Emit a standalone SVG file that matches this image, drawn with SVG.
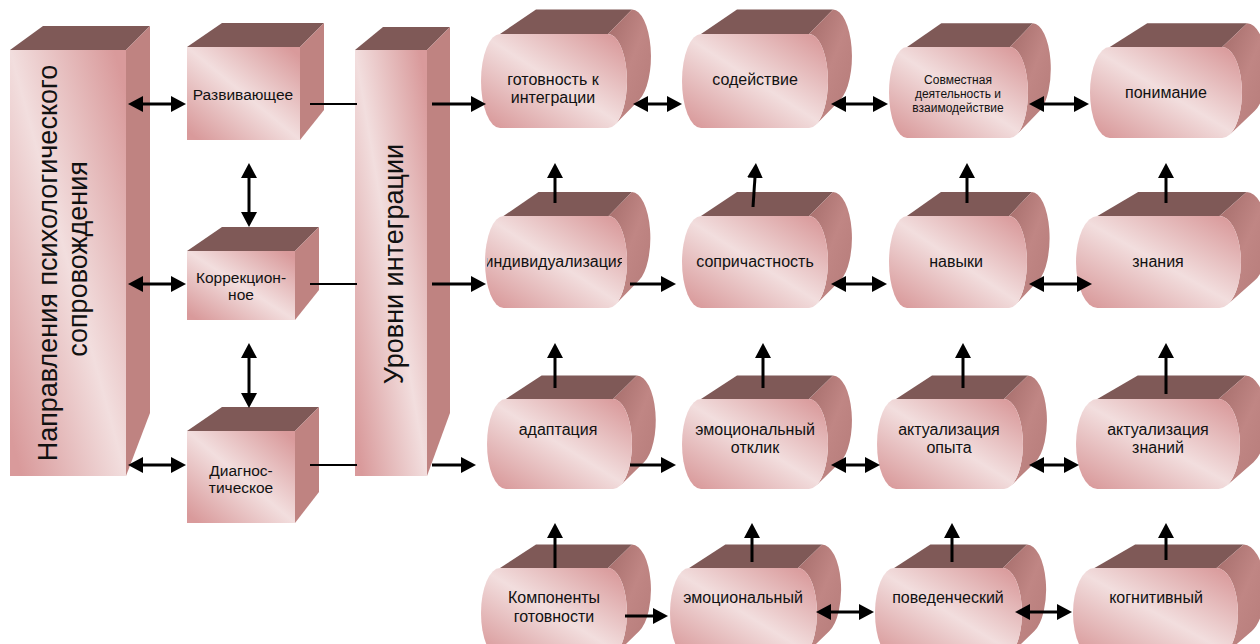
<svg xmlns="http://www.w3.org/2000/svg" xmlns:xlink="http://www.w3.org/1999/xlink" width="1260" height="644" viewBox="0 0 1260 644">
<style>
.front{fill:url(#fg)}
.top{fill:#7f5957}
.side{fill:#bf8381}
.shell{fill:url(#sg)}
.t{font-family:"Liberation Sans",Arial,sans-serif;font-size:16px;fill:#111;text-anchor:middle}
.ts{font-size:12px}
.tb{font-size:27px}
.tc{font-size:15.5px}
.ln{stroke:#000;stroke-width:3;fill:none}
.thin{stroke:#000;stroke-width:2;fill:none}
.a2{marker-start:url(#ah);marker-end:url(#ah)}
.a1{marker-end:url(#ah)}
</style>
<defs>
<linearGradient id="fg" x1="1" y1="0" x2="0" y2="1">
<stop offset="0.05" stop-color="#d99a9b"/>
<stop offset="0.5" stop-color="#f2dede"/>
<stop offset="0.95" stop-color="#d99a9b"/>
</linearGradient>
<linearGradient id="sg" x1="0" y1="0" x2="1" y2="1">
<stop offset="0" stop-color="#a46c6a"/>
<stop offset="0.5" stop-color="#c08684"/>
<stop offset="1" stop-color="#b57b79"/>
</linearGradient>
<marker id="ah" viewBox="0 -8 15 16" refX="1" refY="0" markerWidth="15" markerHeight="16" markerUnits="userSpaceOnUse" orient="auto-start-reverse">
<path d="M0,-8 L15,0 L0,8 Z" fill="#000"/>
</marker>
<g id="cyl">
<path class="top" d="M19,0 L55,-24 L151,-24 L127,0 Z"/>
<path class="shell" d="M127,0 L151,-24 A19,46 0 0 1 158.1,64.6 L134.1,88.6 A19,46 0 0 0 127,0 Z"/>
<path class="front" d="M19,0 L127,0 A19,46 0 0 1 127,92 L19,92 A19,46 0 0 1 19,0 Z"/>
</g>
<clipPath id="clipInd"><rect x="487" y="240" width="135" height="40"/></clipPath>
</defs>

<g id="napravleniya">
<polygon class="top" points="10,50 43,26 150,26 126,50"/>
<polygon class="side" points="126,50 150,26 150,413 126,476"/>
<rect class="front" x="10" y="50" width="116" height="426"/>
<text class="t tb" transform="translate(57,263) rotate(-90)">Направления психологического</text>
<text class="t tb" transform="translate(87,259) rotate(-90)">сопровождения</text>
</g>

<g id="razvivayushchee">
<polygon class="top" points="187,47 222,23 324,23 300,47"/>
<polygon class="side" points="300,47 324,23 324,110 300,140"/>
<rect class="front" x="187" y="47" width="113" height="93"/>
<text class="t tc" x="243" y="100">Развивающее</text>
</g>

<g id="korrekcionnoe">
<polygon class="top" points="187,251 222,227 319,227 295,251"/>
<polygon class="side" points="295,251 319,227 319,290 295,320"/>
<rect class="front" x="187" y="251" width="108" height="69"/>
<text class="t tc" x="241" y="283">Коррекцион-</text>
<text class="t tc" x="241" y="300">ное</text>
</g>

<g id="diagnosticheskoe">
<polygon class="top" points="187,431 222,407 319,407 295,431"/>
<polygon class="side" points="295,431 319,407 319,492 295,523"/>
<rect class="front" x="187" y="431" width="108" height="92"/>
<text class="t tc" x="241" y="476">Диагнос-</text>
<text class="t tc" x="241" y="493">тическое</text>
</g>

<g id="urovni">
<polygon class="top" points="355,50 383,27 450,27 427,50"/>
<polygon class="side" points="427,50 450,27 450,413 427,476"/>
<rect class="front" x="355" y="50" width="72" height="426"/>
<text class="t tb" transform="translate(403,264) rotate(-90)">Уровни интеграции</text>
</g>

<g id="gotovnost">
<use href="#cyl" transform="translate(481,34) scale(1,1.0217)"/>
<text class="t" x="553" y="85">готовность к</text>
<text class="t" x="553" y="103">интеграции</text>
</g>
<g id="sodeystvie">
<use href="#cyl" transform="translate(682,34) scale(1,1.0217)"/>
<text class="t" x="755" y="85">содействие</text>
</g>
<g id="sovmestnaya">
<use href="#cyl" transform="translate(889,47) scale(0.952,0.989)"/>
<text class="t ts" x="958" y="84">Совместная</text>
<text class="t ts" x="958" y="98">деятельность и</text>
<text class="t ts" x="958" y="112">взаимодействие</text>
</g>
<g id="ponimanie">
<use href="#cyl" transform="translate(1090,47) scale(1.041,0.989)"/>
<text class="t" x="1166" y="98">понимание</text>
</g>

<g id="individualizaciya">
<use href="#cyl" transform="translate(485,216) scale(0.973,1)"/>
<text class="t" x="555" y="267" clip-path="url(#clipInd)">индивидуализация</text>
</g>
<g id="soprichastnost">
<use href="#cyl" transform="translate(682,216)"/>
<text class="t" x="755" y="267">сопричастность</text>
</g>
<g id="navyki">
<use href="#cyl" transform="translate(889,216) scale(0.945,1)"/>
<text class="t" x="956" y="267">навыки</text>
</g>
<g id="znaniya">
<use href="#cyl" transform="translate(1076,216) scale(1.13,1)"/>
<text class="t" x="1158" y="267">знания</text>
</g>

<g id="adaptaciya">
<use href="#cyl" transform="translate(487,399) scale(0.993,0.978)"/>
<text class="t" x="558" y="435">адаптация</text>
</g>
<g id="emocotklik">
<use href="#cyl" transform="translate(682,399) scale(1,0.978)"/>
<text class="t" x="755" y="435">эмоциональный</text>
<text class="t" x="755" y="453">отклик</text>
</g>
<g id="aktopyta">
<use href="#cyl" transform="translate(877,399) scale(1,0.978)"/>
<text class="t" x="949" y="435">актуализация</text>
<text class="t" x="949" y="453">опыта</text>
</g>
<g id="aktznaniy">
<use href="#cyl" transform="translate(1076,399) scale(1.123,0.978)"/>
<text class="t" x="1158" y="435">актуализация</text>
<text class="t" x="1158" y="453">знаний</text>
</g>

<g id="komponenty">
<use href="#cyl" transform="translate(481,568) scale(1,0.978)"/>
<text class="t" x="554" y="603">Компоненты</text>
<text class="t" x="554" y="622">готовности</text>
</g>
<g id="emocionalnyy">
<use href="#cyl" transform="translate(670,568) scale(1.007,0.978)"/>
<text class="t" x="743" y="603">эмоциональный</text>
</g>
<g id="povedencheskiy">
<use href="#cyl" transform="translate(875,568) scale(1.007,0.978)"/>
<text class="t" x="948" y="603">поведенческий</text>
</g>
<g id="kognitivnyy">
<use href="#cyl" transform="translate(1073,568) scale(1.13,0.978)"/>
<text class="t" x="1156" y="603">когнитивный</text>
</g>

<g id="connectors">
<line class="ln a2" x1="142" y1="104" x2="172" y2="104"/>
<line class="ln a2" x1="142" y1="284" x2="172" y2="284"/>
<line class="ln a2" x1="142" y1="465" x2="172" y2="465"/>
<line class="ln a2" x1="249" y1="177" x2="249" y2="213"/>
<line class="ln a2" x1="249" y1="357" x2="249" y2="394"/>
<line class="thin" x1="310" y1="104" x2="357" y2="104"/>
<line class="thin" x1="310" y1="284" x2="357" y2="284"/>
<line class="thin" x1="310" y1="465" x2="357" y2="465"/>
<line class="ln a1" x1="432" y1="104" x2="472" y2="104"/>
<line class="ln a1" x1="432" y1="284" x2="472" y2="284"/>
<line class="ln a1" x1="432" y1="465" x2="462" y2="465"/>
<line class="ln a2" x1="647" y1="104" x2="668" y2="104"/>
<line class="ln a2" x1="845" y1="104" x2="874" y2="104"/>
<line class="ln a2" x1="1043" y1="104" x2="1075" y2="104"/>
<line class="ln a1" x1="630" y1="284" x2="662" y2="284"/>
<line class="ln a2" x1="845" y1="284" x2="873" y2="284"/>
<line class="ln a2" x1="1043" y1="284" x2="1078" y2="284"/>
<line class="ln a1" x1="630" y1="465" x2="662" y2="465"/>
<line class="ln a2" x1="845" y1="465" x2="866" y2="465"/>
<line class="ln a2" x1="1043" y1="465" x2="1065" y2="465"/>
<line class="ln a1" x1="625" y1="616" x2="654" y2="616"/>
<line class="ln a2" x1="830" y1="612" x2="860" y2="612"/>
<line class="ln a2" x1="1029" y1="612" x2="1058" y2="612"/>
<line class="ln a1" x1="555" y1="203" x2="555" y2="177"/>
<line class="ln a1" x1="753" y1="207" x2="755" y2="177"/>
<line class="ln a1" x1="967" y1="203" x2="967" y2="177"/>
<line class="ln a1" x1="1166" y1="203" x2="1166" y2="177"/>
<line class="ln a1" x1="555" y1="388" x2="555" y2="357"/>
<line class="ln a1" x1="763" y1="388" x2="763" y2="357"/>
<line class="ln a1" x1="963" y1="388" x2="963" y2="357"/>
<line class="ln a1" x1="1166" y1="394" x2="1166" y2="357"/>
<line class="ln a1" x1="555" y1="568" x2="555" y2="537"/>
<line class="ln a1" x1="752" y1="562" x2="752" y2="537"/>
<line class="ln a1" x1="952" y1="562" x2="952" y2="537"/>
<line class="ln a1" x1="1166" y1="560" x2="1166" y2="537"/>
</g>
</svg>
